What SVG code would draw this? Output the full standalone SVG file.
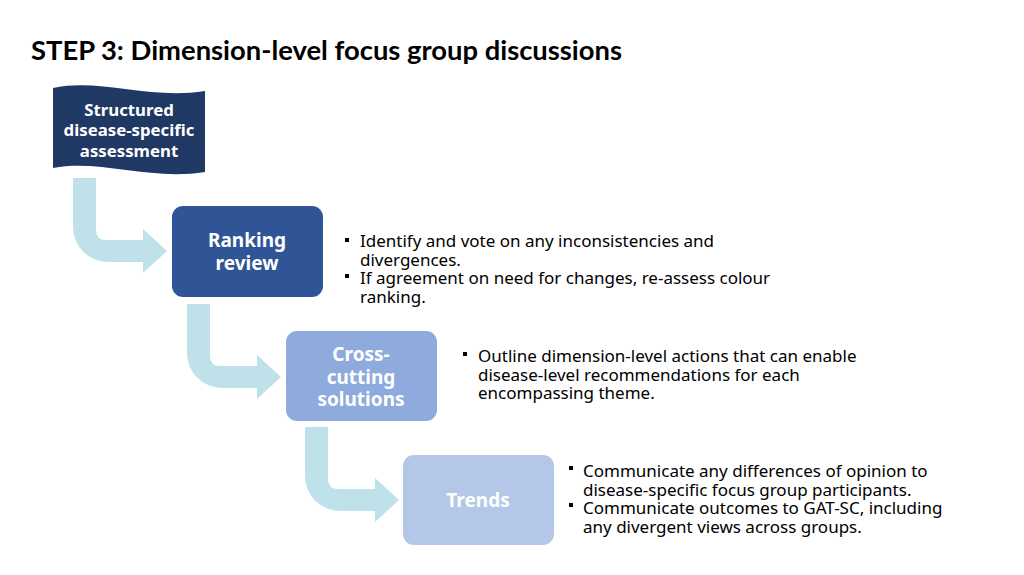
<svg xmlns="http://www.w3.org/2000/svg" width="1024" height="575" viewBox="0 0 1024 575">
<defs>
<style>
.title{font-family:Lato,"Liberation Sans",sans-serif;font-weight:bold;font-size:27px;fill:#000}
.lbl{font-family:"Noto Sans","Open Sans",sans-serif;font-weight:bold;fill:#fff;text-anchor:middle}
.body{font-family:"Noto Sans","Open Sans",sans-serif;font-size:17px;fill:#000}
.arrow{fill:#BFE1EA}
.bul{fill:#000}
</style>
<path id="bend" d="M73,178 H96 V230 Q96,240 106,240 H143 V229 L167,251 L143,273 V262 H108 A35,35 0 0 1 73,227 Z"/>
</defs>
<rect width="1024" height="575" fill="#fff"/>
<text class="title" x="31" y="60" textLength="591" lengthAdjust="spacingAndGlyphs">STEP 3: Dimension-level focus group discussions</text>

<g id="connectors">
<use href="#bend" class="arrow"/>
<use href="#bend" class="arrow" transform="translate(114,126)"/>
<use href="#bend" class="arrow" transform="translate(232,249)"/>
</g>

<g id="assessment">
<path d="M53,88 C100,78 150,100 205,91 V172 C150,181 100,159 53,168 Z" fill="#203864"/>
<text class="lbl" font-size="16.8" x="129" y="116">Structured</text>
<text class="lbl" font-size="16.8" x="129" y="136">disease-specific</text>
<text class="lbl" font-size="16.8" x="129" y="157">assessment</text>
</g>

<g id="ranking">
<rect x="172" y="206" width="151" height="91" rx="11" fill="#2F5597"/>
<text class="lbl" font-size="19" x="247" y="247">Ranking</text>
<text class="lbl" font-size="19" x="247" y="270">review</text>
</g>

<g id="crosscutting">
<rect x="286" y="331" width="151" height="90" rx="11" fill="#8FAADC"/>
<text class="lbl" font-size="19" x="361" y="361">Cross-</text>
<text class="lbl" font-size="19" x="361" y="384">cutting</text>
<text class="lbl" font-size="19" x="361" y="406">solutions</text>
</g>

<g id="trends">
<rect x="403" y="455" width="151" height="90" rx="11" fill="#B4C7E7"/>
<text class="lbl" font-size="19" x="478" y="507">Trends</text>
</g>

<g id="text1">
<rect class="bul" x="345" y="238" width="4" height="4"/>
<rect class="bul" x="345" y="274" width="4" height="4"/>
<text class="body" x="360" y="247">Identify and vote on any inconsistencies and</text>
<text class="body" x="360" y="266">divergences.</text>
<text class="body" x="360" y="284">If agreement on need for changes, re-assess colour</text>
<text class="body" x="360" y="303">ranking.</text>
</g>

<g id="text2">
<rect class="bul" x="463" y="352" width="4" height="4"/>
<text class="body" x="478" y="362">Outline dimension-level actions that can enable</text>
<text class="body" x="478" y="381">disease-level recommendations for each</text>
<text class="body" x="478" y="399">encompassing theme.</text>
</g>

<g id="text3">
<rect class="bul" x="569" y="466" width="4" height="4"/>
<rect class="bul" x="569" y="503" width="4" height="4"/>
<text class="body" x="583" y="477">Communicate any differences of opinion to</text>
<text class="body" x="583" y="496">disease-specific focus group participants.</text>
<text class="body" x="583" y="514">Communicate outcomes to GAT-SC, including</text>
<text class="body" x="583" y="533">any divergent views across groups.</text>
</g>
</svg>
